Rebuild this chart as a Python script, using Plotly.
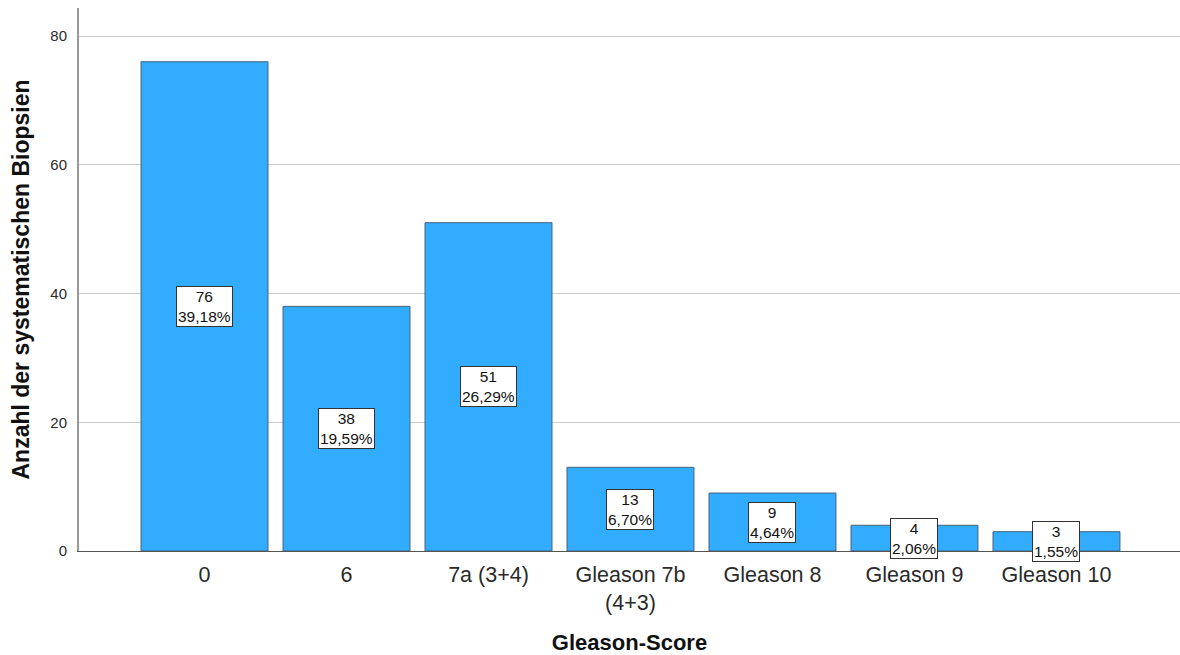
import plotly.graph_objects as go

# Gleason score distribution of systematic biopsies
categories = ["0", "6", "7a (3+4)", "Gleason 7b<br>(4+3)", "Gleason 8", "Gleason 9", "Gleason 10"]
counts = [76, 38, 51, 13, 9, 4, 3]

total = sum(counts)
percents = [c / total * 100 for c in counts]
positions = list(range(len(categories)))

FONT = "Liberation Sans, Arial, sans-serif"

fig = go.Figure()
fig.add_trace(go.Bar(
    x=positions,
    y=counts,
    width=0.894,
    marker=dict(color="#32acfe", line=dict(color="#44617a", width=1)),
    hoverinfo="skip",
))

# value / share boxes in the middle of each bar
for x, c, p in zip(positions, counts, percents):
    label = f"{c}<br>{p:.2f}%".replace(".", ",")
    fig.add_annotation(
        x=x, y=c / 2, text=label, showarrow=False,
        font=dict(family=FONT, size=15.5, color="#111111"),
        bgcolor="white", bordercolor="#333333", borderwidth=1, borderpad=1,
        align="center",
    )

fig.update_layout(
    template="none",
    width=1180, height=655,
    margin=dict(l=79, r=0, t=8, b=104),
    paper_bgcolor="white", plot_bgcolor="white",
    showlegend=False,
    font=dict(family=FONT, color="#333333"),
    xaxis=dict(
        range=[-0.884, 6.87],
        tickmode="array", tickvals=positions, ticktext=categories,
        tickfont=dict(size=21.5, color="#2a2a2a"),
        showgrid=False, zeroline=False, automargin=False,
        showline=True, linecolor="#555555", linewidth=1,
        ticks="", ticklabelstandoff=4,
        title=dict(text="<b>Gleason-Score</b>", font=dict(size=22, color="#111111"), standoff=21),
    ),
    yaxis=dict(
        range=[0, 84.35],
        tickvals=[0, 20, 40, 60, 80],
        tickfont=dict(size=15, color="#2a2a2a"),
        showgrid=True, gridcolor="#cccccc", gridwidth=1,
        zeroline=False, automargin=False,
        showline=True, linecolor="#999999", linewidth=2,
        ticks="", ticklabelstandoff=7,
        title=dict(text="<b>Anzahl der systematischen Biopsien</b>", font=dict(size=23, color="#111111"), standoff=14),
    ),
)

fig.write_html("out.html")
